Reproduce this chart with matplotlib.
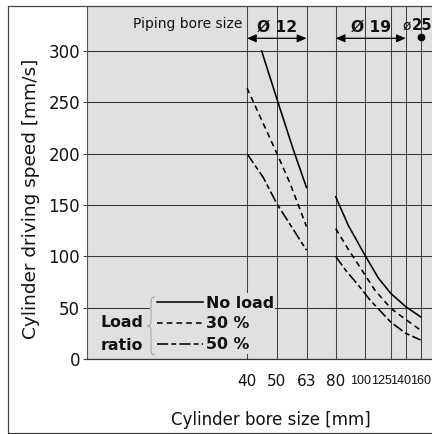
import numpy as np
import matplotlib
matplotlib.use('Agg')
import matplotlib.pyplot as plt
from matplotlib import font_manager
from matplotlib.patches import Rectangle, PathPatch
from matplotlib.path import Path
from matplotlib.transforms import ScaledTranslation

# ---------------- data ----------------
bore_ticks = [40, 50, 63, 80, 100, 125, 140, 160]
bore_tick_labels = ['40', '50', '63', '80', '100', '125', '140', '160']
speed_ticks = [0, 50, 100, 150, 200, 250, 300]

# piping bore size Ø12 (cylinder bores 40-63)
g12_noload_x = [44.6, 50, 56.8, 63]
g12_noload_y = [300, 253, 204, 167]
g12_30_x = [40, 50, 55.4, 63]
g12_30_y = [264, 200, 171, 129]
g12_50_x = [40, 45.1, 50, 63]
g12_50_y = [200, 177, 151, 106]

# piping bore size Ø19 (cylinder bores 80-160)
g19_noload_x = [80, 88.1, 100, 112.2, 125, 140, 160]
g19_noload_y = [158, 130, 101, 79, 64, 51, 41]
g19_30_x = [80, 88, 95, 109, 125, 140, 160]
g19_30_y = [127, 107, 92, 67, 49.5, 38.5, 28]
g19_50_x = [80, 86, 95, 104, 125, 140, 160]
g19_50_y = [100, 87, 72, 58, 36, 25, 18.5]

load_labels = ['No load', '30 %', '50 %']
piping_ranges = [(40, 63, 'Ø 12'), (80, 140, 'Ø 19')]
piping_single_bore = 160
piping_single_label = '25'

# ---------------- layout helpers ----------------
W, H = 432, 434
fig = plt.figure(figsize=(W / 100, H / 100), dpi=100)
fig.patch.set_facecolor('white')


def fx(px):
    return px / W


def fy(py):
    return 1 - py / H


AX_L, AX_R, AX_T, AX_B = 87, 454, 6, 359
ax = fig.add_axes([fx(AX_L), fy(AX_B), (AX_R - AX_L) / W, (AX_B - AX_T) / H])

# log-like bore scale with the chart's own tick spacing
anchor_vals = np.array([10, 40, 50, 63, 80, 100, 125, 140, 160, 1000], float)
anchor_pos = np.array([247 - 0.60206 * 300, 247, 277, 306.5, 335.7, 365,
                       390.7, 405.7, 420.7, 420.7 + (3 - np.log10(160)) * 290])
anchor_log = np.log10(anchor_vals)


def fwd(x):
    x = np.asarray(x, float)
    return np.interp(np.log10(np.clip(x, 1e-6, None)), anchor_log, anchor_pos)


def inv(p):
    return 10 ** np.interp(np.asarray(p, float), anchor_pos, anchor_log)


ax.set_xscale('function', functions=(fwd, inv))
ax.set_xlim(float(inv(AX_L)), float(inv(AX_R)))
PX_PER_UNIT = 308 / 300.0
ax.set_ylim(0, (AX_B - AX_T) / PX_PER_UNIT)


def yval(py):
    return (AX_B - py) / PX_PER_UNIT


ax.set_facecolor('#e0e0e0')
ax.set_axisbelow(True)
ax.set_xticks(bore_ticks, bore_tick_labels)
ax.set_yticks(speed_ticks)
ax.grid(True, axis='y', color='#333333', lw=0.75)
ax.grid(True, axis='x', color='#444444', lw=0.75)

for s in ['top', 'right']:
    ax.spines[s].set_visible(False)
ax.spines['left'].set_color('#555555')
ax.spines['left'].set_linewidth(0.8)
ax.spines['bottom'].set_color('#333333')
ax.spines['bottom'].set_linewidth(0.9)

ax.tick_params(axis='y', direction='out', length=2.9, width=0.8, color='#444444',
               pad=2.2, labelsize=12, labelcolor='#111111')
ax.tick_params(axis='x', length=0, pad=10.5, labelsize=11, labelcolor='#111111')

# narrower labels for the crowded right-hand ticks
names = {f.name for f in font_manager.fontManager.ttflist}
if 'Liberation Sans Narrow' in names:
    narrow_family, narrow_size = 'Liberation Sans Narrow', 10.5
elif 'Liberation Sans' in names:
    narrow_family, narrow_size = 'Liberation Sans', 9
else:
    narrow_family, narrow_size = 'DejaVu Sans', 7.8
label_dx = [0, 0, 0, 0, -4, -9, -5, 0]
for lbl, dx, t in zip(ax.get_xticklabels(), label_dx, bore_ticks):
    if t >= 100:
        lbl.set_family(narrow_family)
        lbl.set_fontsize(narrow_size)
        dy = -1.0
    else:
        dy = 0.0
    lbl.set_transform(lbl.get_transform() +
                      ScaledTranslation(dx / 100, dy / 100, fig.dpi_scale_trans))

# ---------------- curves ----------------
LW = 1.15
dash30 = (0, (3.5, 2.6))
dash50 = (0, (7.0, 2.0, 3.0, 2.0))
l_no, = ax.plot(g12_noload_x, g12_noload_y, color='black', lw=LW, ls='-')
l_30, = ax.plot(g12_30_x, g12_30_y, color='black', lw=LW, ls=dash30)
l_50, = ax.plot(g12_50_x, g12_50_y, color='black', lw=LW, ls=dash50)
ax.plot(g19_noload_x, g19_noload_y, color='black', lw=LW, ls='-')
ax.plot(g19_30_x, g19_30_y, color='black', lw=LW, ls=dash30)
ax.plot(g19_50_x, g19_50_y, color='black', lw=LW, ls=dash50)

# ---------------- piping bore size annotations ----------------
arrow_y = yval(38.3)
ax.annotate('Piping bore size', xy=(bore_ticks[0], yval(28.3)), xytext=(-3.5, 0),
            textcoords='offset points', ha='right', va='baseline', fontsize=10,
            color='#111111', annotation_clip=False)
for lo, hi, lab in piping_ranges:
    ax.annotate('', xy=(hi, arrow_y), xytext=(lo, arrow_y),
                arrowprops=dict(arrowstyle='<|-|>,head_length=0.55,head_width=0.24',
                                mutation_scale=10, lw=0.9, color='black',
                                shrinkA=0, shrinkB=0), annotation_clip=False)
    xc = float(inv((fwd(lo) + fwd(hi)) / 2))
    ax.text(xc, yval(31.7), lab, ha='center', va='baseline', fontsize=11.2,
            fontweight='bold', color='#111111')
ax.annotate('ø', xy=(piping_single_bore, yval(30)), xytext=(-10 / 1.389, 0),
            textcoords='offset points', ha='right', va='baseline', fontsize=10,
            color='#111111', annotation_clip=False)
ax.annotate(piping_single_label, xy=(piping_single_bore, yval(30)), xytext=(-9 / 1.389, 0),
            textcoords='offset points', ha='left', va='baseline', fontsize=10.6,
            fontweight='bold', color='#111111', annotation_clip=False)
ax.plot([piping_single_bore], [yval(36.7)], 'o', ms=4.6, color='black', clip_on=False)

# ---------------- legend ----------------
ax.add_patch(Rectangle((fx(150), fy(354)), fx(275) - fx(150), fy(293) - fy(354),
                       transform=fig.transFigure, facecolor='#e0e0e0', edgecolor='none',
                       zorder=1.5))
leg = ax.legend([l_no, l_30, l_50], load_labels, loc='upper left',
                bbox_to_anchor=(fx(157), fy(295.5)), bbox_transform=fig.transFigure,
                frameon=False, borderpad=0, borderaxespad=0, handlelength=2.9,
                handletextpad=0.2, labelspacing=0.37,
                prop=dict(weight='bold', size=11.4))
for t in leg.get_texts():
    t.set_color('#111111')

# brace
bv = [(155, 297), (151, 297), (151, 302), (151, 321), (151, 326), (147.5, 326),
      (151, 326), (151, 331), (151, 350), (151, 355), (155, 355)]
bc = [Path.MOVETO, Path.CURVE3, Path.CURVE3, Path.LINETO, Path.CURVE3, Path.CURVE3,
      Path.CURVE3, Path.CURVE3, Path.LINETO, Path.CURVE3, Path.CURVE3]
brace = PathPatch(Path([(fx(x), fy(y)) for x, y in bv], bc), transform=fig.transFigure,
                  facecolor='none', edgecolor='#a0a0a0', lw=0.7, zorder=6)
fig.add_artist(brace)
fig.text(fx(122), fy(326.7), 'Load', ha='center', va='baseline', fontsize=11.3,
         fontweight='bold', color='#111111')
fig.text(fx(122), fy(349.5), 'ratio', ha='center', va='baseline', fontsize=11.3,
         fontweight='bold', color='#111111')

# ---------------- axis labels ----------------
ax.set_xlabel('Cylinder bore size [mm]', fontsize=12, va='center', color='#111111')
ax.xaxis.set_label_coords(fx(270.5), fy(420), transform=fig.transFigure)
ax.set_ylabel('Cylinder driving speed [mm/s]', fontsize=13.3, va='center', color='#111111')
ax.yaxis.set_label_coords(fx(31.5), fy(198.5), transform=fig.transFigure)

# outer frame
fig.add_artist(Rectangle((fx(8), fy(432.5)), (470 - 8) / W, (432.5 - 6) / H,
                         transform=fig.transFigure, fill=False, edgecolor='#444444',
                         lw=0.9, zorder=10))

fig.savefig('out.png', dpi=100)
